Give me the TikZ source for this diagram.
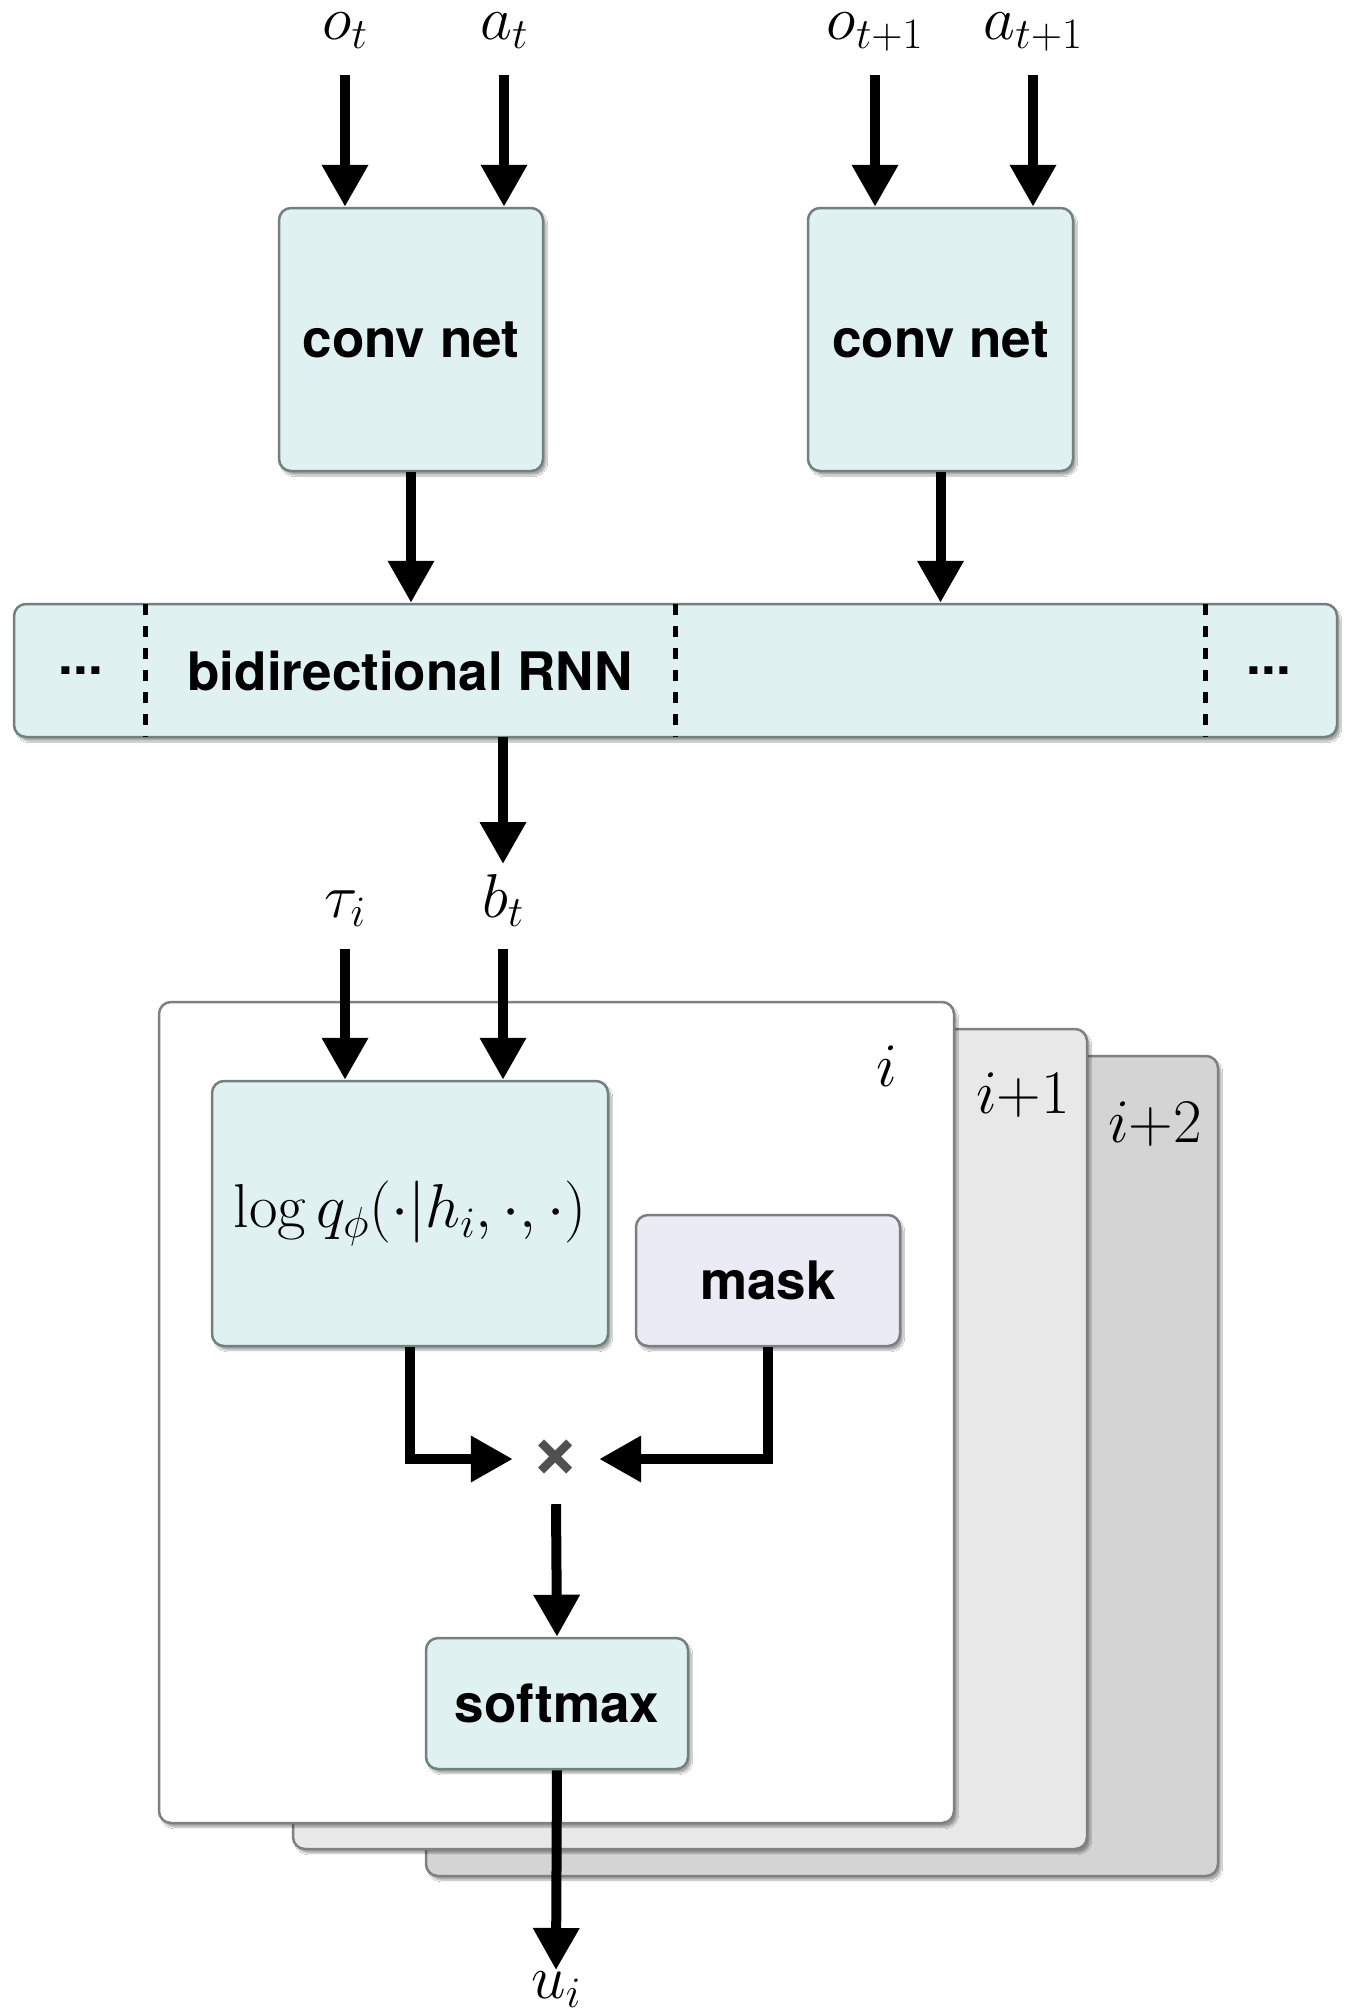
\RequirePackage{fix-cm}
\documentclass[tikz,border=0pt]{standalone}
\usepackage{fontspec}
\newfontfamily\hv{TeX Gyre Heros}
\usetikzlibrary{arrows.meta,shadows.blur}
\definecolor{boxfill}{RGB}{223,241,241}
\definecolor{boxline}{RGB}{115,128,128}
\definecolor{maskfill}{RGB}{235,235,245}
\definecolor{maskline}{RGB}{125,125,130}
\definecolor{pan1}{RGB}{232,232,232}
\definecolor{pan2}{RGB}{212,212,212}
\definecolor{panline}{RGB}{128,128,128}
\definecolor{mulgray}{RGB}{80,80,80}
\tikzset{
 sh/.style={blur shadow={shadow xshift=3pt,shadow yshift=-4pt,shadow opacity=35,shadow blur steps=6}},
 sansbold/.style={font=\hv\bfseries\fontsize{53}{60}\selectfont},
 blk/.style={draw=boxline,line width=2.5pt,rounded corners=12pt,fill=boxfill,sh,inner sep=0pt,sansbold},
 panel/.style={draw=panline,line width=2.5pt,rounded corners=12pt,sh,inner sep=0pt},
 mathlbl/.style={inner sep=0pt,anchor=base,font=\fontsize{62}{66}\selectfont},
 arr/.style={line width=10pt,-{Triangle[length=42pt,width=44pt]}},
 sep/.style={line width=5pt,dash pattern=on 11pt off 11pt},
}
\begin{document}
\begin{tikzpicture}[x=1pt,y=-1pt]
\fill[white] (0,0) rectangle (1354,2016);
\useasboundingbox (0,0) rectangle (1354,2016);

% stacked panels
\node[panel,fill=pan2,minimum width=792pt,minimum height=820pt] (p3) at (822,1466) {};
\node[panel,fill=pan1,minimum width=794pt,minimum height=820pt] (p2) at (690,1439) {};
\node[panel,fill=white,minimum width=795pt,minimum height=821pt] (p1) at (556.5,1412.5) {};
\node[mathlbl] (l1) at (887,1086) {$i$};
\node[mathlbl] (l2) at (1023,1113) {$i{+}1$};
\node[mathlbl] (l3) at (1155,1142) {$i{+}2$};

% conv nets
\node[blk,minimum width=264pt,minimum height=263pt] (conv1) at (411,339.5) {conv net};
\node[blk,minimum width=265pt,minimum height=263pt] (conv2) at (940.5,339.5) {conv net};

% inputs
\node[mathlbl] (ot) at (345,39) {$o_t$};
\node[mathlbl] (at) at (504,39) {$a_t$};
\node[mathlbl] (ot1) at (875,39) {$o_{t+1}$};
\node[mathlbl] (at1) at (1033,39) {$a_{t+1}$};
\coordinate (ots) at (345,75);
\coordinate (ats) at (504,75);
\coordinate (ot1s) at (875,75);
\coordinate (at1s) at (1033,75);
\draw[arr] (ots) -- (ots |- conv1.north);
\draw[arr] (ats) -- (ats |- conv1.north);
\draw[arr] (ot1s) -- (ot1s |- conv2.north);
\draw[arr] (at1s) -- (at1s |- conv2.north);

% RNN
\node[blk,minimum width=1323pt,minimum height=133pt] (rnn) at (675.5,670.5) {};
\node[sansbold,inner sep=0pt] (rnntxt) at (410,671) {bidirectional RNN};
\node[sansbold,inner sep=0pt] (dl) at (81,671) {...};
\node[sansbold,inner sep=0pt] (dr) at (1269,671) {...};
\draw[sep] (145,604) -- (145,737);
\draw[sep] (675,604) -- (675,737);
\draw[sep] (1205,604) -- (1205,737);
\draw[arr] (conv1.south) -- (conv1.south |- rnn.north);
\draw[arr] (conv2.south) -- (conv2.south |- rnn.north);

% b_t, tau_i
\node[mathlbl] (bt) at (503,917) {$b_t$};
\node[mathlbl] (tau) at (345,917) {$\tau_i$};
\coordinate (rnnout) at (503,737);
\coordinate (rnnend) at (503,864);
\draw[arr] (rnnout) -- (rnnend);
\coordinate (taus) at (345,949);
\coordinate (bts) at (503,949);

% inner boxes
\node[blk,font=\fontsize{62}{66}\selectfont,minimum width=396pt,minimum height=265pt] (logq) at (410,1213.5) {$\log q_\phi(\cdot|h_i,\cdot,\cdot)$};
\node[blk,draw=maskline,fill=maskfill,minimum width=264pt,minimum height=131pt] (mask) at (768,1280.5) {mask};
\node[blk,minimum width=262pt,minimum height=131pt] (soft) at (557,1703.5) {softmax};
\draw[arr] (taus) -- (taus |- logq.north);
\draw[arr] (bts) -- (bts |- logq.north);

\node[inner sep=0pt,minimum width=86pt,minimum height=90pt,text=mulgray,
  font=\hv\bfseries\fontsize{86}{86}\selectfont] (mul) at (556,1459) {×};
\draw[arr] (logq.south) |- (mul.west);
\draw[arr] (mask.south) |- (mul.east);
\draw[arr] (mul.south) -- (soft.north);

\node[mathlbl] (ui) at (556,1998) {$u_i$};
\coordinate (uitop) at (556,1970);
\draw[arr] (soft.south) -- (uitop);
\end{tikzpicture}
\end{document}
